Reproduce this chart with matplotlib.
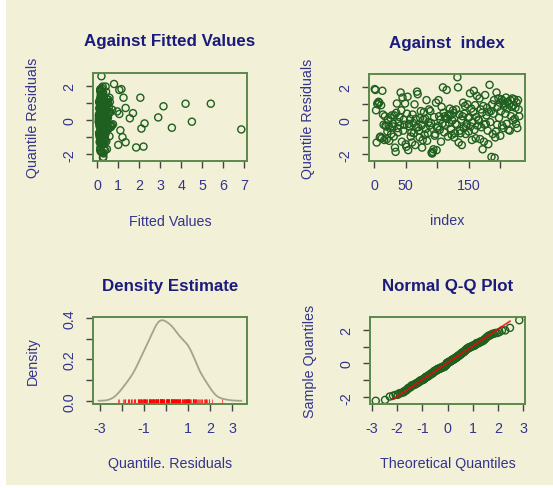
#Residual diagnostics in four panels, GAMLSS style
#Values read off the reference picture, so only approximate

from statistics import NormalDist
import numpy as np
import matplotlib
matplotlib.use('Agg')
import matplotlib.pyplot as plt
from matplotlib.patches import Rectangle

plt.rcParams['font.family'] = ['Liberation Sans', 'DejaVu Sans']
plt.rcParams['axes.unicode_minus'] = False

# quantile residuals, by observation index
residuals = [
    1.85, 1.80, 0.60, -1.30, 1.00, 0.95, 1.10, 1.05, -1.00, -0.95,
    0.90, -1.05, 1.75, 0.35, -0.25, -1.15, 0.25, -0.30, -0.35, -1.10,
    -0.65, 0.05, -0.30, -1.20, -0.45, 0.15, -0.80, 0.30, -0.35, -0.20,
    -0.95, 0.30, -1.60, -1.85, 0.45, 1.00, -0.45, -0.70, -0.10, 0.20,
    -0.30, 1.65, 0.60, -1.25, 1.35, -0.60, 0.05, -0.25, 1.00, -1.40,
    -1.55, 0.40, 1.40, -1.75, -0.20, -0.35, 0.10, -0.95, -0.70, -1.30,
    0.35, -0.15, -0.75, 0.95, -1.45, 0.10, -0.40, 1.70, 1.55, -0.40,
    -0.60, -1.00, 0.15, 0.55, -0.30, -1.60, -1.15, 0.05, 0.50, -0.85,
    0.10, -0.50, 1.20, -1.20, -0.75, -0.10, 0.65, -0.30, 0.55, -0.15,
    -1.90, -1.95, -1.85, -1.70, 0.20, -0.90, -0.80, 1.05, -1.75, -0.45,
    -0.35, 1.20, 0.25, -0.55, 0.05, -1.25, 0.80, -0.20, 1.95, 0.45,
    -0.70, 0.25, -0.25, 0.15, 1.80, 0.10, -0.95, 0.35, -0.15, 0.70,
    0.30, -0.50, -0.85, 0.00, 0.60, 0.45, -1.00, -0.75, -0.20, 0.65,
    -0.25, 2.55, 1.95, -1.30, 0.35, -0.60, -0.75, 0.05, -1.45, 0.25,
    1.05, -0.45, 0.40, 0.85, -0.80, -0.35, -0.20, 0.95, 0.15, -0.65,
    0.20, 1.60, -0.35, 0.70, -1.15, -0.10, 0.50, 1.75, -0.55, 0.90,
    -1.05, 0.20, 1.45, -0.30, 0.05, 0.00, 1.30, -1.10, 0.65, -0.40,
    0.45, -1.70, 0.85, -1.25, -0.25, 1.50, -0.20, 0.30, 0.75, -0.60,
    -1.40, 0.50, 2.10, -0.10, 0.55, -2.15, 0.95, -0.80, 0.40, 1.20,
    -2.20, -1.00, -0.65, 1.65, -0.25, 0.80, 1.30, 0.15, 1.05, -0.90,
    0.55, 1.25, -0.30, 1.15, -0.45, 0.85, 1.00, 0.40, 1.35, -0.20,
    0.70, 1.10, -0.55, 0.95, -0.60, 1.20, 0.25, 0.80, 1.30, 0.00,
    0.90, 1.25, 0.10, 0.75, -0.20, 1.05, -0.45, 1.20, 0.65, 0.25,
]

# fitted values, same order
fitted = [
    0.22, 0.15, 0.31, 0.12, 0.27, 0.40, 0.18, 0.09, 0.35, 0.24,
    0.16, 0.29, 1.05, 0.21, 0.13, 0.38, 0.26, 0.11, 0.47, 0.19,
    0.33, 0.08, 0.25, 0.14, 0.56, 0.20, 0.30, 0.17, 0.43, 0.10,
    0.28, 0.36, 0.15, 0.23, 0.62, 0.12, 0.34, 0.19, 0.07, 0.45,
    0.26, 0.18, 0.71, 0.13, 0.32, 0.21, 0.39, 0.16, 0.52, 0.24,
    2.20, 0.14, 0.29, 0.37, 0.11, 0.44, 0.22, 0.58, 0.17, 0.30,
    0.25, 0.09, 0.41, 5.40, 0.19, 0.33, 0.66, 0.14, 0.27, 0.12,
    0.36, 0.21, 0.48, 0.15, 0.31, 1.85, 0.23, 0.10, 0.39, 0.18,
    0.28, 0.54, 0.13, 0.35, 0.20, 4.50, 0.26, 0.16, 0.42, 0.11,
    0.24, 0.30, 0.17, 0.46, 0.08, 0.37, 0.22, 0.60, 0.14, 0.32,
    0.19, 0.27, 0.12, 0.50, 0.35, 0.16, 3.15, 0.23, 0.40, 0.13,
    0.29, 0.21, 0.75, 0.18, 1.15, 1.55, 0.34, 0.11, 0.25, 1.35,
    0.38, 2.10, 0.15, 0.27, 0.20, 0.53, 0.31, 0.09, 0.44, 0.17,
    0.36, 0.20, 0.26, 1.35, 1.05, 1.10, 0.22, 0.48, 1.00, 0.14,
    0.30, 3.55, 0.19, 0.41, 0.12, 0.64, 2.25, 0.24, 2.90, 0.33,
    0.16, 0.28, 0.45, 0.10, 0.37, 0.21, 0.57, 0.15, 0.32, 0.25,
    0.13, 0.40, 0.22, 0.69, 0.18, 0.35, 2.05, 0.27, 0.11, 0.49,
    0.20, 0.31, 0.14, 0.43, 0.26, 0.17, 0.38, 0.08, 0.55, 0.23,
    0.34, 0.95, 0.80, 0.19, 0.46, 0.29, 4.20, 0.12, 0.36, 0.21,
    0.27, 1.20, 0.15, 0.42, 0.33, 0.18, 1.25, 0.51, 0.24, 0.10,
    0.37, 0.20, 0.61, 0.14, 0.30, 0.23, 0.44, 1.70, 0.16, 0.39,
    0.25, 0.12, 6.85, 0.34, 0.19, 0.47, 0.28, 0.15, 0.58, 0.22,
    0.31, 0.17, 0.40, 0.26, 0.13, 0.36, 0.21, 0.52, 0.18, 0.29,
]

res = np.array(residuals)
fit = np.array(fitted)
n = len(res)
index = np.arange(1, n + 1)

bg = '#f2f0d7'
title_col = '#1b1b7e'
lab_col = '#34348f'
box_col = '#5b8a4b'
pt_col = '#1f5f1f'


def r_lim(v):
    #R style 4% padding
    lo, hi = np.min(v), np.max(v)
    pad = 0.04 * (hi - lo)
    return lo - pad, hi + pad


def style(ax, title, xlabel, ylabel, xt, xtl, yt, ytl):
    ax.set_facecolor(bg)
    for s in ax.spines.values():
        s.set_color(box_col)
        s.set_linewidth(1.4)
    ax.set_xticks(xt)
    ax.set_xticklabels(xtl)
    ax.set_yticks(yt)
    ax.set_yticklabels(ytl, rotation=90, va='center')
    ax.tick_params(direction='out', length=5, width=1, color='#444444',
                   labelcolor=lab_col, labelsize=10.3, pad=7)
    ax.text(0.5, 1 + 32 / 88, title, transform=ax.transAxes, ha='center',
            va='center', fontsize=12.2, fontweight='bold', color=title_col)
    ax.text(0.5, -60 / 88, xlabel, transform=ax.transAxes, ha='center',
            va='center', fontsize=10.3, color=lab_col)
    ax.text(-60 / 154, 0.5, ylabel, transform=ax.transAxes, ha='center',
            va='center', rotation=90, fontsize=10.3, color=lab_col)


fig = plt.figure(figsize=(5.53, 4.89), dpi=100)
fig.patch.set_facecolor('white')
W, H = 553, 489
fig.patches.append(Rectangle((6 / W, 3 / H), 1, 1, transform=fig.transFigure,
                             facecolor=bg, edgecolor='none', zorder=-10))


def place(x0, y0, x1, y1):
    return fig.add_axes([x0 / W, (H - y1) / H, (x1 - x0) / W, (y1 - y0) / H])


ax1 = place(93, 74, 247, 162)
ax2 = place(369, 75, 525, 162)
ax3 = place(93, 318, 247, 405)
ax4 = place(370, 318, 525, 405)

ylim_res = r_lim(res)

# against fitted values
ax1.scatter(fit, res, s=26, facecolors='none', edgecolors=pt_col, linewidths=1)
ax1.set_xlim(r_lim(fit))
ax1.set_ylim(ylim_res)
style(ax1, 'Against Fitted Values', 'Fitted Values', 'Quantile Residuals',
      range(0, 8), [str(i) for i in range(0, 8)],
      [-2, -1, 0, 1, 2], ['-2', '', '0', '', '2'])

# against index
ax2.scatter(index, res, s=26, facecolors='none', edgecolors=pt_col, linewidths=1)
ax2.set_xlim(r_lim(index))
ax2.set_ylim(ylim_res)
style(ax2, 'Against  index', 'index', 'Quantile Residuals',
      [0, 50, 100, 150, 200], ['0', '50', '', '150', ''],
      [-2, -1, 0, 1, 2], ['-2', '', '0', '', '2'])

# density estimate, gaussian kernel with bw.nrd0
sd = res.std(ddof=1)
iqr = np.subtract(*np.percentile(res, [75, 25]))
bw = 0.9 * min(sd, iqr / 1.34) * n ** -0.2
gx = np.linspace(res.min() - 3 * bw, res.max() + 3 * bw, 512)
gy = np.exp(-0.5 * ((gx[:, None] - res[None, :]) / bw) ** 2).sum(axis=1)
gy = gy / (n * bw * np.sqrt(2 * np.pi))
ax3.plot(gx, gy, color='#a3a38e', lw=1.3)
ax3.set_xlim(r_lim(gx))
y3 = r_lim(gy)
ax3.set_ylim(y3)
ax3.vlines(res, y3[0], y3[0] + 0.03 * (y3[1] - y3[0]) + 0.01, color='red', lw=0.8, alpha=0.6)
style(ax3, 'Density Estimate', 'Quantile. Residuals', 'Density',
      [-3, -2, -1, 0, 1, 2, 3], ['-3', '', '-1', '', '1', '2', '3'],
      [0, 0.1, 0.2, 0.3, 0.4], ['0.0', '', '0.2', '', '0.4'])

# normal q-q plot
srt = np.sort(res)
th = np.array([NormalDist().inv_cdf((i - 0.5) / n) for i in index])
ax4.scatter(th, srt, s=26, facecolors='none', edgecolors=pt_col, linewidths=1)
q = np.percentile(res, [25, 75])
tq = np.array([NormalDist().inv_cdf(0.25), NormalDist().inv_cdf(0.75)])
slope = (q[1] - q[0]) / (tq[1] - tq[0])
inter = q[0] - slope * tq[0]
lx = np.array([th[3], th[-2]])
ax4.plot(lx, inter + slope * lx, color='red', lw=1.2, alpha=0.85)
ax4.set_xlim(r_lim(th))
ax4.set_ylim(ylim_res)
style(ax4, 'Normal Q-Q Plot', 'Theoretical Quantiles', 'Sample Quantiles',
      [-3, -2, -1, 0, 1, 2, 3], ['-3', '-2', '-1', '0', '1', '2', '3'],
      [-2, -1, 0, 1, 2], ['-2', '', '0', '', '2'])

plt.savefig('out.png', dpi=100, facecolor='white')
